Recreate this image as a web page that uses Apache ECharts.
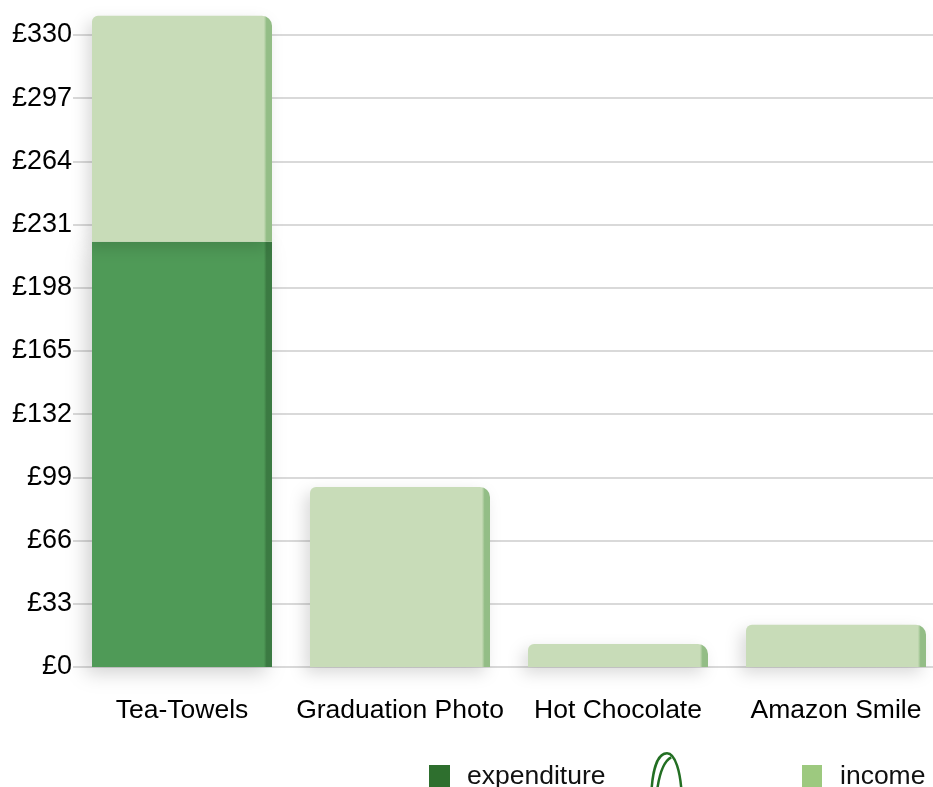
<!DOCTYPE html>
<html>
<head>
<meta charset="utf-8">
<script src="https://cdn.jsdelivr.net/npm/echarts@6/dist/echarts.min.js"></script>
<style>
html,body{margin:0;padding:0;background:#fff;overflow:hidden;width:933px;height:787px;}
#chart{width:945px;height:787px;}
</style>
</head>
<body>
<div id="chart"></div>
<script>
const categories = ['Tea-Towels', 'Graduation Photo', 'Hot Chocolate', 'Amazon Smile'];
const expenditure = [222, 0, 0, 0];
const income = [118, 94, 12, 22];
const yTicks = [0, 33, 66, 99, 132, 165, 198, 231, 264, 297, 330];

const FONT = '"Liberation Sans", Arial, Helvetica, sans-serif';

function faceGradient(face, side) {
  return new echarts.graphic.LinearGradient(0, 0, 1, 0, [
    { offset: 0, color: face },
    { offset: 0.955, color: face },
    { offset: 0.97, color: side },
    { offset: 1, color: side }
  ]);
}

const chart = echarts.init(document.getElementById('chart'), null, { renderer: 'canvas' });
chart.setOption({
  animation: false,
  backgroundColor: '#ffffff',
  grid: { left: 73, right: 0, top: 35, bottom: 120, containLabel: false },
  xAxis: {
    type: 'category',
    data: categories,
    axisLine: { show: false },
    axisTick: { show: false },
    axisLabel: { color: '#000', fontFamily: FONT, fontSize: 26.5, margin: 30, interval: 0 }
  },
  yAxis: {
    type: 'value',
    min: yTicks[0],
    max: yTicks[yTicks.length - 1],
    interval: 33,
    axisLine: { show: false },
    axisTick: { show: false },
    axisLabel: { color: '#000', fontFamily: FONT, fontSize: 27, margin: 1,
      formatter: v => '£' + v },
    splitLine: { lineStyle: { color: '#cdcdcd', width: 1.5 } }
  },
  legend: [
    { left: 429, top: 763, padding: 0, itemWidth: 21, itemHeight: 23, selectedMode: false,
      textStyle: { fontFamily: FONT, fontSize: 26.5, color: '#111', padding: [0, 0, 0, 12] },
      data: [{ name: 'expenditure', icon: 'rect', itemStyle: { color: '#2e6f2e' } }] },
    { left: 650, top: 752, padding: 0, itemWidth: 32, itemHeight: 42, selectedMode: false,
      textStyle: { fontFamily: FONT, fontSize: 26, color: '#111' },
      data: [{ name: ' ',
        icon: 'path://M2,42 C3,18 8,2 17,2 C25,2 30,20 31,42 M7,42 C9,24 13,10 21,6',
        itemStyle: { color: 'rgba(0,0,0,0)', borderColor: '#236f23', borderWidth: 2.5 } }] },
    { left: 802, top: 763, padding: 0, itemWidth: 20, itemHeight: 23, selectedMode: false,
      textStyle: { fontFamily: FONT, fontSize: 26.5, color: '#111', padding: [0, 0, 0, 13] },
      data: [{ name: 'income', icon: 'rect', itemStyle: { color: '#9dc97f' } }] }
  ],
  series: [
    {
      name: 'expenditure', type: 'bar', stack: 'total', barWidth: 180, clip: false,
      data: expenditure,
      itemStyle: { color: faceGradient('#4f9a57', '#3b7a42'),
        shadowColor: 'rgba(0,0,0,0.18)', shadowBlur: 18, shadowOffsetX: -6, shadowOffsetY: 6 }
    },
    {
      name: ' ', type: 'line', data: [], itemStyle: { color: '#2b7a2b' }
    },
    {
      name: 'income', type: 'bar', stack: 'total', barWidth: 180, clip: false,
      data: income,
      itemStyle: { color: faceGradient('#c8dcb8', '#93bd86'), borderRadius: [6, 10, 0, 0],
        shadowColor: 'rgba(0,0,0,0.15)', shadowBlur: 16, shadowOffsetX: -5, shadowOffsetY: 6 }
    }
  ]
});
</script>
</body>
</html>
